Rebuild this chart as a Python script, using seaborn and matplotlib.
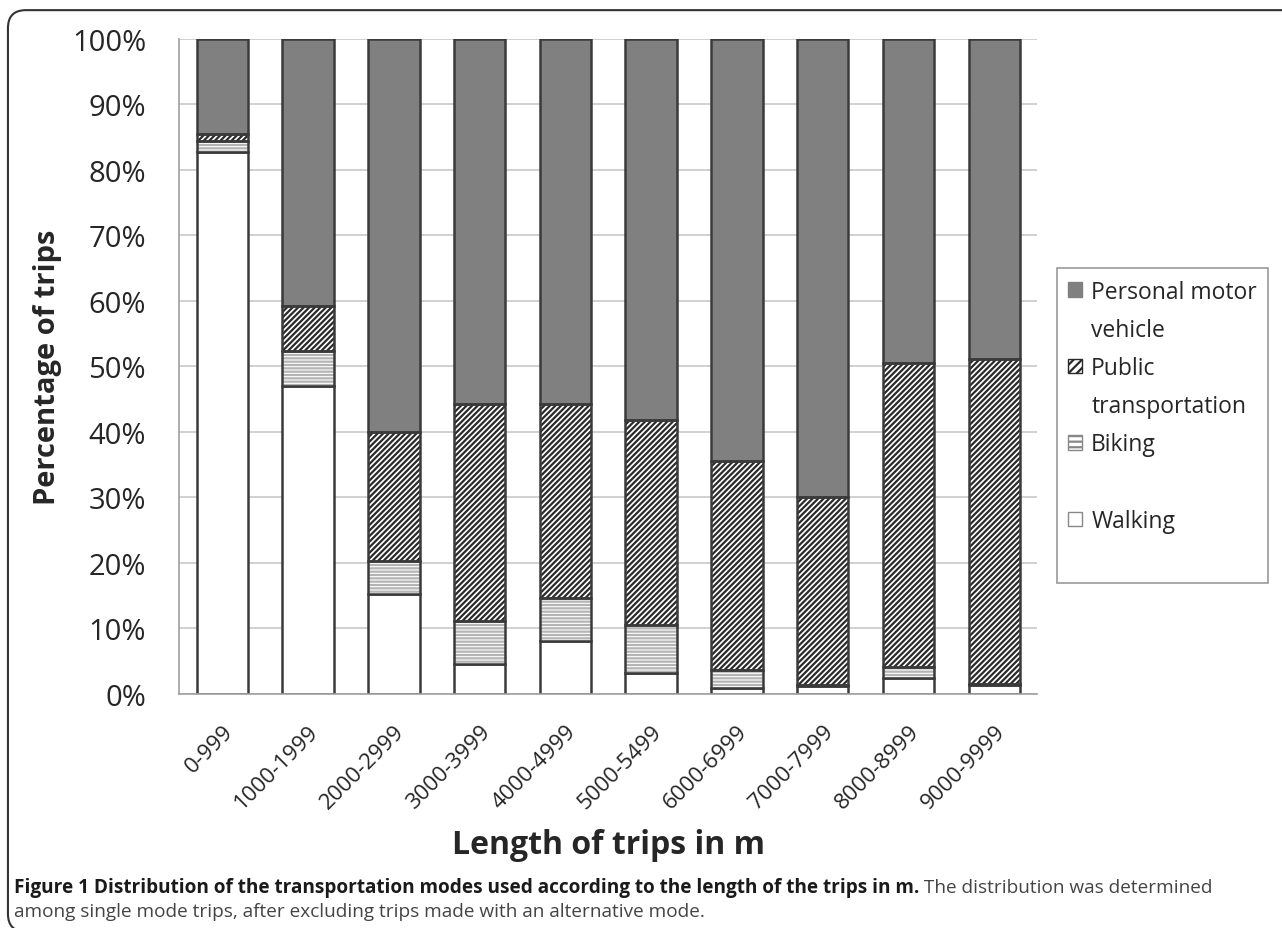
import numpy as np
import matplotlib.pyplot as plt
import matplotlib.transforms as mtransforms
import seaborn as sns
import pandas as pd
from matplotlib.patches import Patch, Rectangle, FancyBboxPatch

# Data (percent of trips per distance class)
categories = ['0-999', '1000-1999', '2000-2999', '3000-3999', '4000-4999',
              '5000-5499', '6000-6999', '7000-7999', '8000-8999', '9000-9999']
walking = [82.8, 47.0, 15.2, 4.5, 8.0, 3.2, 0.9, 1.2, 2.5, 1.4]
biking = [1.6, 5.3, 5.1, 6.7, 6.6, 7.3, 2.7, 0.1, 1.6, 0.1]
public = [1.1, 6.9, 19.7, 33.0, 29.7, 31.3, 31.9, 28.7, 46.4, 49.7]
motor = list(100 - np.array(walking) - np.array(biking) - np.array(public))

sns.set_style('white')
plt.rcParams['font.family'] = ['Open Sans', 'DejaVu Sans']
plt.rcParams['hatch.linewidth'] = 1.6

fig = plt.figure(figsize=(12.82, 9.29), dpi=100)
ax = fig.add_axes([0.14, 0.252, 0.669, 0.705])

edge = '#3a3a3a'
df = pd.DataFrame({'cat': categories, 'walking': walking, 'biking': biking,
                   'public': public, 'motor': motor})
bottom = np.zeros(len(categories))

layers = [('walking', 'white', None, edge),
          ('biking', 'white', '-----', '#b4b4b4'),
          ('public', 'white', '//////', '#2a2a2a'),
          ('motor', '#808080', None, edge)]
for name, face, hatch, ec in layers:
    n_before = len(ax.patches)
    sns.barplot(data=df, x='cat', y=name, bottom=bottom, color=face, width=0.6,
                edgecolor=ec, linewidth=0 if hatch else 1.8, hatch=hatch,
                saturation=1, ax=ax)
    new = ax.patches[n_before:]
    for p in new:
        p.set_facecolor(face)
        if hatch:
            # outline on top of the hatched fill
            ax.add_patch(Rectangle(p.get_xy(), p.get_width(), p.get_height(),
                                   fill=False, edgecolor=edge, linewidth=1.8, zorder=3))
    bottom = bottom + df[name].values

ax.set_ylim(0, 100)
ax.set_xlim(-0.5, len(categories) - 0.5)
ax.set_yticks(range(0, 101, 10))
ax.set_yticklabels([f'{v}%' for v in range(0, 101, 10)], fontsize=21)
ax.yaxis.grid(True, color='#c8c8c8', linewidth=1.2)
ax.set_axisbelow(True)

ax.set_xticks(range(len(categories)))
ax.set_xticklabels(categories, rotation=45, ha='right', rotation_mode='anchor', fontsize=16)
shift = mtransforms.ScaledTranslation(8 / 72, 0, fig.dpi_scale_trans)
for lab in ax.get_xticklabels():
    lab.set_transform(lab.get_transform() + shift)
ax.set_xticks(np.arange(-0.5, len(categories)), minor=True)
ax.tick_params(axis='x', which='major', length=0, pad=19)
ax.tick_params(axis='x', which='minor', length=7, color='#a0a0a0', width=1.2, direction='out')
ax.tick_params(axis='y', length=7, color='#a0a0a0', width=1.2, direction='out', pad=17)

for s in ['top', 'right']:
    ax.spines[s].set_visible(False)
for s in ['left', 'bottom']:
    ax.spines[s].set_color('#a0a0a0')
    ax.spines[s].set_linewidth(1.2)

ax.set_ylabel('Percentage of trips', fontsize=21, fontweight='bold', labelpad=7)
ax.set_xlabel('Length of trips in m', fontsize=23, fontweight='bold', labelpad=11)

blank = Patch(facecolor='none', edgecolor='none')
handles = [Patch(facecolor='#808080', edgecolor='#808080'), blank,
           Patch(facecolor='white', edgecolor='#2a2a2a', hatch='////'), blank,
           Patch(facecolor='white', edgecolor='#888888', hatch='---'), blank,
           Patch(facecolor='white', edgecolor='#888888'), blank]
labels = ['Personal motor', 'vehicle', 'Public', 'transportation', 'Biking', ' ', 'Walking', ' ']
leg = ax.legend(handles=handles, labels=labels, loc='center left', bbox_to_anchor=(1.023, 0.41),
                fontsize=16.5, frameon=True, fancybox=False, edgecolor='#808080',
                handlelength=0.6, handleheight=0.6, handletextpad=0.4,
                labelspacing=0.62, borderpad=0.5, borderaxespad=0)
leg.get_frame().set_linewidth(1.2)

# caption
cap_font = ['Open Sans', 'DejaVu Sans']
t1 = fig.text(0.011, 0.044, 'Figure 1 Distribution of the transportation modes used according to the length of the trips in m.',
              fontsize=13.7, fontweight='bold', family=cap_font, va='center', color='#1a1a1a')
ax.annotate(' The distribution was determined', xy=(1, 0.5), xycoords=t1, va='center',
            fontsize=13.7, family=cap_font, color='#444444', annotation_clip=False)
fig.text(0.011, 0.018, 'among single mode trips, after excluding trips made with an alternative mode.',
         fontsize=13.7, family=cap_font, color='#444444', va='center')

frame = FancyBboxPatch((0.0062, -0.004), 1.1, 0.992, boxstyle='round,pad=0,rounding_size=0.014',
                       mutation_aspect=1282 / 929, transform=fig.transFigure, fill=False,
                       edgecolor='#333333', linewidth=1.5, clip_on=False)
fig.patches.append(frame)

plt.savefig('out.png', dpi=100)
